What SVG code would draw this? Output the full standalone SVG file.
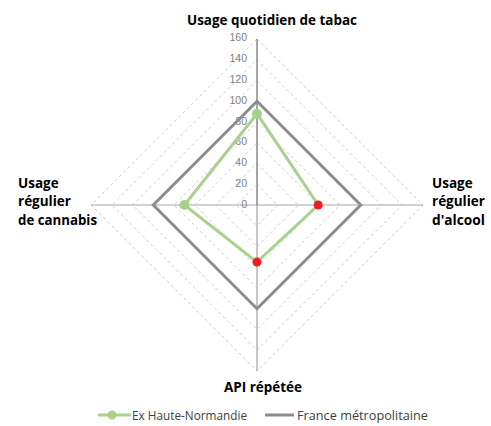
<svg xmlns="http://www.w3.org/2000/svg" width="491" height="426" viewBox="0 0 491 426">
<style>
.grid{fill:none;stroke:#d0d0d0;stroke-width:1;stroke-dasharray:3,3}
.tick{font-family:"Liberation Sans",Arial,sans-serif;font-size:10.5px;fill:#7f7f7f;text-anchor:end}
.lbl{font-family:"Open Sans","Liberation Sans",sans-serif;font-size:13.5px;font-weight:bold;fill:#000}
.leg{font-family:"Open Sans","Liberation Sans",sans-serif;font-size:12.5px;fill:#404040}
</style>
<rect width="491" height="426" fill="#fff"/>
<g id="grid">
<polygon class="grid" points="257,184.25 277.75,205 257,225.75 236.25,205"/>
<polygon class="grid" points="257,163.5 298.5,205 257,246.5 215.5,205"/>
<polygon class="grid" points="257,142.75 319.25,205 257,267.25 194.75,205"/>
<polygon class="grid" points="257,122 340,205 257,288 174,205"/>
<polygon class="grid" points="257,101.25 360.75,205 257,308.75 153.25,205"/>
<polygon class="grid" points="257,80.5 381.5,205 257,329.5 132.5,205"/>
<polygon class="grid" points="257,59.75 402.25,205 257,350.25 111.75,205"/>
<polygon class="grid" points="257,39 423,205 257,371 91,205"/>
</g>
<g id="axes">
<line x1="257" y1="205" x2="257" y2="371" stroke="#b4b4b4" stroke-width="1.5"/>
<line x1="91" y1="205" x2="423" y2="205" stroke="#a6a6a6" stroke-width="1.2"/>
<line x1="257" y1="39" x2="257" y2="205" stroke="#888" stroke-width="1.5"/>
</g>
<g id="ticks">
<text class="tick" x="247" y="41">160</text>
<text class="tick" x="247" y="62">140</text>
<text class="tick" x="247" y="82.5">120</text>
<text class="tick" x="247" y="103.5">100</text>
<text class="tick" x="247" y="124.5">80</text>
<text class="tick" x="247" y="145">60</text>
<text class="tick" x="247" y="166">40</text>
<text class="tick" x="247" y="186.5">20</text>
<text class="tick" x="247" y="207.5">0</text>
</g>
<g id="connectors">
<polygon id="france" points="257,101.25 360.75,205 257,308.75 153.25,205" fill="none" stroke="#8c8c8c" stroke-width="3" stroke-linejoin="miter"/>
<polygon id="exhn" points="257,113.7 318.2,205 257,262.1 184.4,205" fill="none" stroke="#a9d18e" stroke-width="3"/>
</g>
<g id="markers">
<circle cx="257" cy="113.7" r="5" fill="#a9d18e"/>
<circle cx="318.2" cy="205" r="4.5" fill="#ee1c1c"/>
<circle cx="257" cy="262.1" r="4.5" fill="#ee1c1c"/>
<circle cx="184.4" cy="205" r="5" fill="#a9d18e"/>
</g>
<g id="node-tabac"><text class="lbl" x="187" y="25" textLength="170" lengthAdjust="spacingAndGlyphs">Usage quotidien de tabac</text></g>
<g id="node-cannabis">
<text class="lbl" x="18" y="188">Usage</text>
<text class="lbl" x="18" y="206">régulier</text>
<text class="lbl" x="18" y="225" textLength="79" lengthAdjust="spacingAndGlyphs">de cannabis</text>
</g>
<g id="node-alcool">
<text class="lbl" x="432" y="188">Usage</text>
<text class="lbl" x="432" y="206">régulier</text>
<text class="lbl" x="432" y="225" textLength="53" lengthAdjust="spacingAndGlyphs">d'alcool</text>
</g>
<g id="node-api"><text class="lbl" x="224" y="392" textLength="78" lengthAdjust="spacingAndGlyphs">API répétée</text></g>
<g id="legend">
<line x1="98" y1="415" x2="131" y2="415" stroke="#a9d18e" stroke-width="3"/>
<circle cx="112" cy="415" r="4.5" fill="#a9d18e"/>
<text class="leg" x="132" y="419.5" textLength="115" lengthAdjust="spacingAndGlyphs">Ex Haute-Normandie</text>
<line x1="265" y1="415" x2="294" y2="415" stroke="#8c8c8c" stroke-width="3"/>
<text class="leg" x="297" y="419.5" textLength="131" lengthAdjust="spacingAndGlyphs">France métropolitaine</text>
</g>
</svg>
